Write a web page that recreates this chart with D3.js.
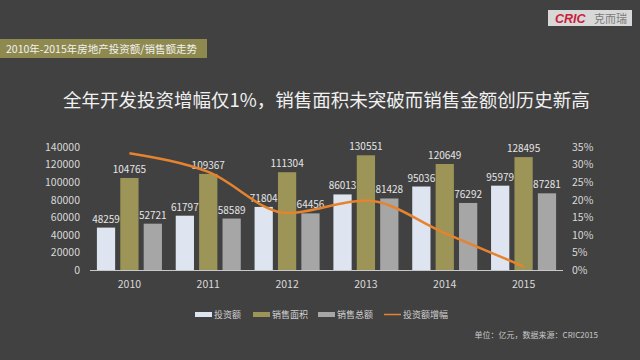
<!DOCTYPE html>
<html><head><meta charset="utf-8">
<script src="https://cdn.jsdelivr.net/npm/d3@7/dist/d3.min.js"></script>
<style>body{margin:0;background:#414141;}svg{display:block;}</style>
</head><body>
<svg id="c" width="640" height="360"></svg>
<script>
const years = ["2010","2011","2012","2013","2014","2015"];
const investment = [48259, 61797, 71804, 86013, 95036, 95979];
const salesArea = [104765, 109367, 111304, 130551, 120649, 128495];
const salesTotal = [52721, 58589, 64456, 81428, 76292, 87281];
const growth = [0.332, 0.279, 0.162, 0.198, 0.105, 0.010];
const leftTicks = [0,20000,40000,60000,80000,100000,120000,140000];
const rightTicks = [0,0.05,0.10,0.15,0.20,0.25,0.30,0.35];
const seriesNames = ["投资额","销售面积","销售总额"];
const lineName = "投资额增幅";
const colors = ["#dfe5f0","#9d9558","#a6a6a6"];
const lineColor = "#e5832e";

const svg = d3.select("#c");
const font = "'Noto Sans CJK SC','Noto Sans',sans-serif";
svg.append("rect").attr("width",640).attr("height",360).attr("fill","#414141");

// header banner
svg.append("rect").attr("x",0).attr("y",39).attr("width",207).attr("height",19).attr("fill","#8e894f");
svg.append("text").attr("x",6).attr("y",52.5).attr("fill","#f2f2f2").attr("font-size",10.5)
  .attr("font-family",font).text("2010年-2015年房地产投资额/销售额走势");

// logo
svg.append("rect").attr("x",548).attr("y",10).attr("width",84).attr("height",16).attr("fill","#d8d8d8");
svg.append("text").attr("x",555).attr("y",22.5).attr("fill","#c8213b").attr("font-size",12.5)
  .attr("font-weight","bold").attr("font-style","italic").attr("font-family","'Liberation Sans',sans-serif").text("CRIC");
svg.append("text").attr("x",594).attr("y",22.5).attr("fill","#7a7a7a").attr("font-size",11)
  .attr("font-family",font).text("克而瑞");

// title
svg.append("text").attr("x",63).attr("y",107).attr("fill","#f0f0f0").attr("font-size",18.5)
  .attr("font-family",font).text("全年开发投资增幅仅1%，销售面积未突破而销售金额创历史新高");

const x0 = d3.scaleBand().domain(years).range([90,563]).paddingInner(0.175).paddingOuter(0.0875);
const x1 = d3.scaleBand().domain(seriesNames).range([0,x0.bandwidth()]).paddingInner(0.22);
const y = d3.scaleLinear().domain([0,140000]).range([270,147]);
const y2 = d3.scaleLinear().domain([0,0.35]).range([270,147]);

// left axis
const la = svg.append("g").attr("transform","translate(84,0)")
  .call(d3.axisLeft(y).tickValues(leftTicks).tickSize(0).tickPadding(4).tickFormat(d3.format("d")));
la.select(".domain").remove();
la.selectAll("text").attr("fill","#d9d9d9").attr("font-size",10.5).attr("font-family",font);

// right axis
const ra = svg.append("g").attr("transform","translate(568,0)")
  .call(d3.axisRight(y2).tickValues(rightTicks).tickSize(0).tickPadding(4).tickFormat(d3.format(".0%")));
ra.select(".domain").remove();
ra.selectAll("text").attr("fill","#d9d9d9").attr("font-size",10.5).attr("font-family",font);

// bars
const data = years.map((yr,i)=>({yr, vals:[investment[i],salesArea[i],salesTotal[i]]}));
const g = svg.append("g");
data.forEach(d=>{
  d.vals.forEach((v,j)=>{
    const bx = x0(d.yr)+x1(seriesNames[j]);
    g.append("rect").attr("x",bx).attr("y",y(v)).attr("width",x1.bandwidth()).attr("height",y(0)-y(v)).attr("fill",colors[j]);
    g.append("text").attr("x",bx+x1.bandwidth()/2).attr("y",y(v)-5).attr("text-anchor","middle")
      .attr("fill","#e6e6e6").attr("font-size",10).attr("font-family",font).text(v);
  });
});

// baseline
svg.append("line").attr("x1",90).attr("x2",563).attr("y1",270.5).attr("y2",270.5).attr("stroke","#c8c8c8").attr("stroke-width",1);

// x labels
const xa = svg.append("g").attr("transform","translate(0,271)")
  .call(d3.axisBottom(x0).tickSize(0).tickPadding(10));
xa.select(".domain").remove();
xa.selectAll("text").attr("fill","#d9d9d9").attr("font-size",10.5).attr("font-family",font);

// line
const line = d3.line().x((d,i)=>x0(years[i])+x0.bandwidth()/2).y(d=>y2(d)).curve(d3.curveMonotoneX);
svg.append("path").datum(growth).attr("d",line).attr("fill","none").attr("stroke",lineColor).attr("stroke-width",2.5);

// legend
const lg = svg.append("g");
const legendX = [195,253,318];
seriesNames.forEach((n,j)=>{
  lg.append("rect").attr("x",legendX[j]).attr("y",312).attr("width",17).attr("height",5).attr("fill",colors[j]);
  lg.append("text").attr("x",legendX[j]+19).attr("y",318).attr("fill","#d0d0d0").attr("font-size",9).attr("font-family",font).text(n);
});
lg.append("line").attr("x1",384).attr("x2",401).attr("y1",314.5).attr("y2",314.5).attr("stroke",lineColor).attr("stroke-width",1.5);
lg.append("text").attr("x",403).attr("y",318).attr("fill","#d0d0d0").attr("font-size",9).attr("font-family",font).text(lineName);

// footnote
svg.append("text").attr("x",598).attr("y",338).attr("text-anchor","end").attr("fill","#c8c8c8").attr("font-size",8)
  .attr("font-family",font).text("单位：亿元，数据来源：CRIC2015");
</script>
</body></html>
